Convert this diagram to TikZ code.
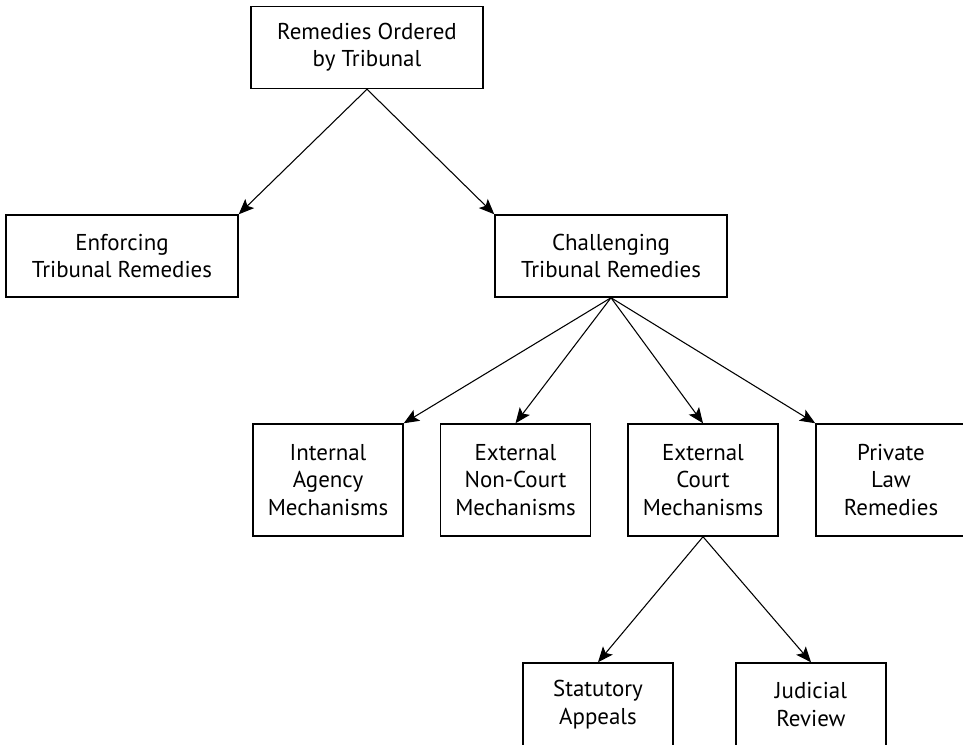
\documentclass[tikz,border=0pt]{standalone}
\usepackage{fontspec}
\setmainfont{PT Sans}
\usetikzlibrary{arrows.meta}
\begin{document}
\begin{tikzpicture}[x=0.75pt,y=-0.75pt,
  box/.style={draw, line width=1.1pt, align=center, inner sep=0pt, font=\fontsize{17.2}{20.5}\selectfont},
  wide/.style={box, minimum width=174pt, minimum height=61.5pt},
  narrow/.style={box, minimum width=112.5pt, minimum height=84pt},
  low/.style={box, minimum width=112.5pt, minimum height=62.25pt},
  arr/.style={-{Stealth[length=11.5pt,width=9.5pt,inset=2.5pt]}, line width=0.8pt}]
\useasboundingbox (0,0) rectangle (963,745);
\node[wide] (top) at (367,47.5) {Remedies Ordered\\by Tribunal};
\node[wide] (enf) at (122,256) {Enforcing\\Tribunal Remedies};
\node[wide] (chal) at (611,256) {Challenging\\Tribunal Remedies};
\node[narrow] (int) at (328,480) {Internal\\Agency\\Mechanisms};
\node[narrow] (nonc) at (515.5,480) {External\\Non-Court\\Mechanisms};
\node[narrow] (extc) at (703,480) {External\\Court\\Mechanisms};
\node[narrow] (priv) at (891,480) {Private\\Law\\Remedies};
\node[low] (stat) at (598,704.5) {Statutory\\Appeals};
\node[low] (jud) at (811,704.5) {Judicial\\Review};
\draw[arr] (top.south) -- (enf.north east);
\draw[arr] (top.south) -- (chal.north west);
\draw[arr] (chal.south) -- (int.north east);
\draw[arr] (chal.south) -- (nonc.north);
\draw[arr] (chal.south) -- (extc.north);
\draw[arr] (chal.south) -- (priv.north west);
\draw[arr] (extc.south) -- (stat.north);
\draw[arr] (extc.south) -- (jud.north);
\end{tikzpicture}
\end{document}
